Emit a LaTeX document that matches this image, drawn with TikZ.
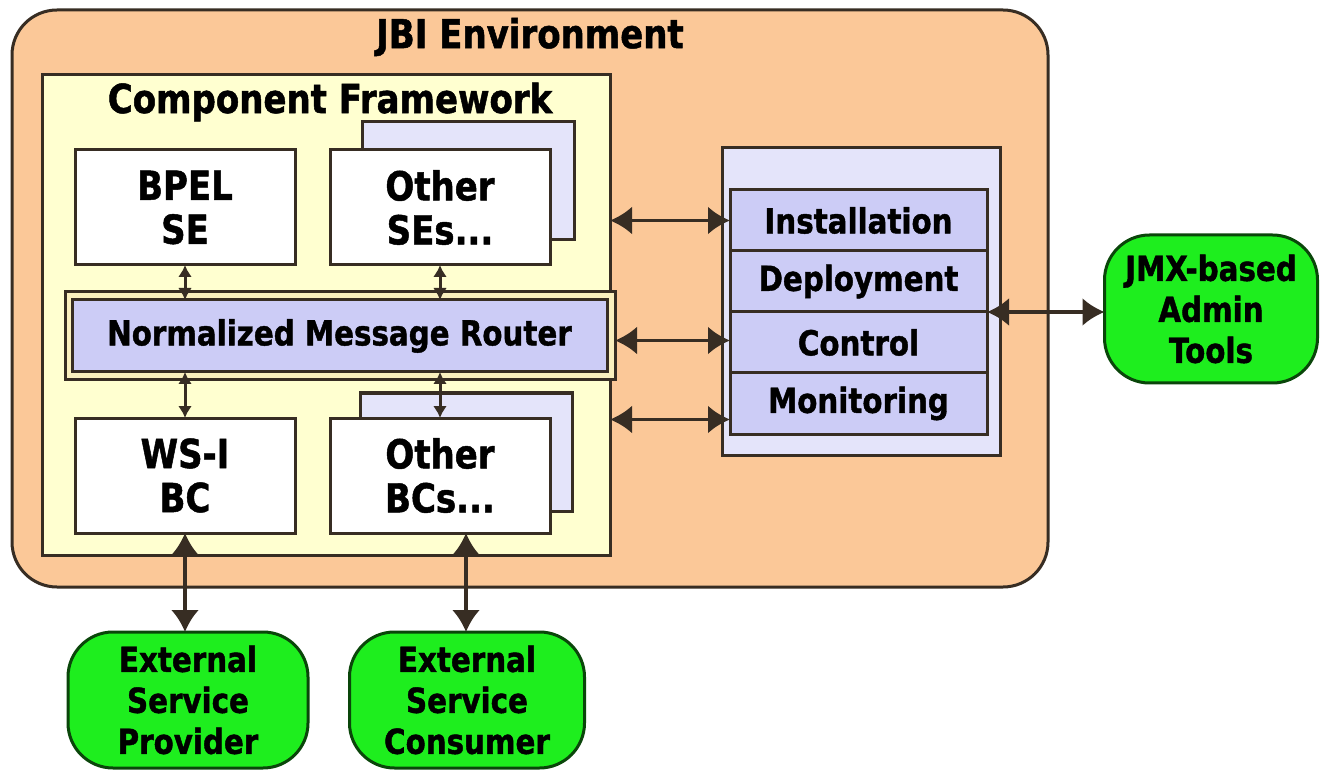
\documentclass[tikz,border=0pt]{standalone}
\usepackage{fontspec}
\setmainfont{DejaVu Sans}
\newfontfamily\heavy{DejaVu Sans}[FakeStretch=0.85, BoldFeatures={FakeBold=1.2}]
\usetikzlibrary{arrows.meta,calc}
\definecolor{peach}{RGB}{251,200,152}
\definecolor{cream}{RGB}{255,255,208}
\definecolor{framecream}{RGB}{250,240,190}
\definecolor{lav}{RGB}{204,204,246}
\definecolor{lavlight}{RGB}{228,228,250}
\definecolor{edge}{RGB}{55,45,35}
\definecolor{gfill}{RGB}{30,238,30}
\definecolor{gedge}{RGB}{10,70,10}
\tikzset{
  plain/.style={draw=edge, line width=3pt, outer sep=0pt, inner sep=0pt, anchor=north west},
  wbox/.style={plain, fill=white, minimum width=220pt, minimum height=115pt, align=center,
    font=\heavy\fontsize{40}{44}\selectfont\bfseries},
  shadowbox/.style={plain, fill=lavlight, minimum width=212pt, minimum height=118pt},
  row/.style={plain, fill=lav, minimum width=257pt, minimum height=61pt,
    font=\heavy\fontsize{34.5}{40}\selectfont\bfseries},
  green/.style={draw=gedge, line width=3pt, fill=gfill, rounded corners=45pt, outer sep=0pt,
    inner sep=0pt, align=center, font=\heavy\fontsize{34.5}{41}\selectfont\bfseries},
  lbl/.style={font=\heavy\fontsize{40}{44}\selectfont\bfseries, inner sep=0pt},
  bigarrow/.style={draw=edge, line width=3.5pt, {Latex[length=22pt,width=28pt]}-{Latex[length=22pt,width=28pt]}},
  smallarrow/.style={draw=edge, line width=3pt, {Latex[length=12pt,width=14pt]}-{Latex[length=12pt,width=14pt]}}
}
\begin{document}
\begin{tikzpicture}[x=1pt,y=-1pt]
\useasboundingbox[fill=white] (0,0) rectangle (1325,775);
% JBI environment
\node[plain, fill=peach, rounded corners=45pt, minimum width=1036pt, minimum height=577pt] (jbi) at (12,10) {};
\node[lbl] (jbititle) at (530,37) {JBI Environment};
% Component framework
\node[plain, fill=cream, minimum width=568pt, minimum height=480pt] (cf) at (42,75) {};
\node[lbl] (cftitle) at (330,102) {Component Framework};
% SEs
\node[wbox] (bpel) at (75,150) {BPEL\\SE};
\node[shadowbox] (seshadow) at (362,122) {};
\node[wbox] (ose) at (330,150) {Other\\SEs...};
% NMR
\node[plain, fill=framecream, minimum width=550pt, minimum height=88pt] (nmrframe) at (65,292) {};
\node[plain, fill=lav, minimum width=535pt, minimum height=72pt,
  font=\heavy\fontsize{34.5}{40}\selectfont\bfseries] (nmr) at (72,300) {Normalized Message Router};
% BCs
\node[wbox] (wsi) at (75,418) {WS-I\\BC};
\node[shadowbox] (bcshadow) at (360,393) {};
\node[wbox] (obc) at (330,418) {Other\\BCs...};
% Admin panel
\node[plain, fill=lavlight, minimum width=278pt, minimum height=307pt] (admin) at (722,148) {};
\node[row] (inst) at (730,190) {Installation};
\node[row] (dep) at (730,251) {Deployment};
\node[row] (ctrl) at (730,312) {Control};
\node[row] (mon) at (730,373) {Monitoring};
% Green nodes
\node[green, minimum width=213pt, minimum height=148pt] (jmx) at (1211,309) {JMX-based\\Admin\\Tools};
\node[green, minimum width=240pt, minimum height=136pt] (prov) at (188,700) {External\\Service\\Provider};
\node[green, minimum width=235pt, minimum height=136pt] (cons) at (467,700) {External\\Service\\Consumer};
% helper coordinates
\coordinate (ca) at ($(ctrl.west)+(0,-2)$);
\coordinate (ma) at ($(mon.west)+(0,16)$);
\coordinate (ba) at ($(obc.south)+(26,0)$);
% Arrows inside framework
\draw[smallarrow] (bpel.south) -- (bpel.south |- nmr.north);
\draw[smallarrow] (ose.south) -- (ose.south |- nmr.north);
\draw[smallarrow] (wsi.north |- nmr.south) -- (wsi.north);
\draw[smallarrow] (obc.north |- nmr.south) -- (obc.north);
% Arrows to admin
\draw[bigarrow] (inst.west -| cf.east) -- (inst.west);
\draw[bigarrow] (ca -| nmrframe.east) -- (ca);
\draw[bigarrow] (ma -| cf.east) -- (ma);
\draw[bigarrow] (dep.south east) -- (dep.south east -| jmx.west);
% Arrows to externals
\draw[bigarrow] (wsi.south) -- (wsi.south |- prov.north);
\draw[bigarrow] (ba) -- (ba |- cons.north);
\end{tikzpicture}
\end{document}
